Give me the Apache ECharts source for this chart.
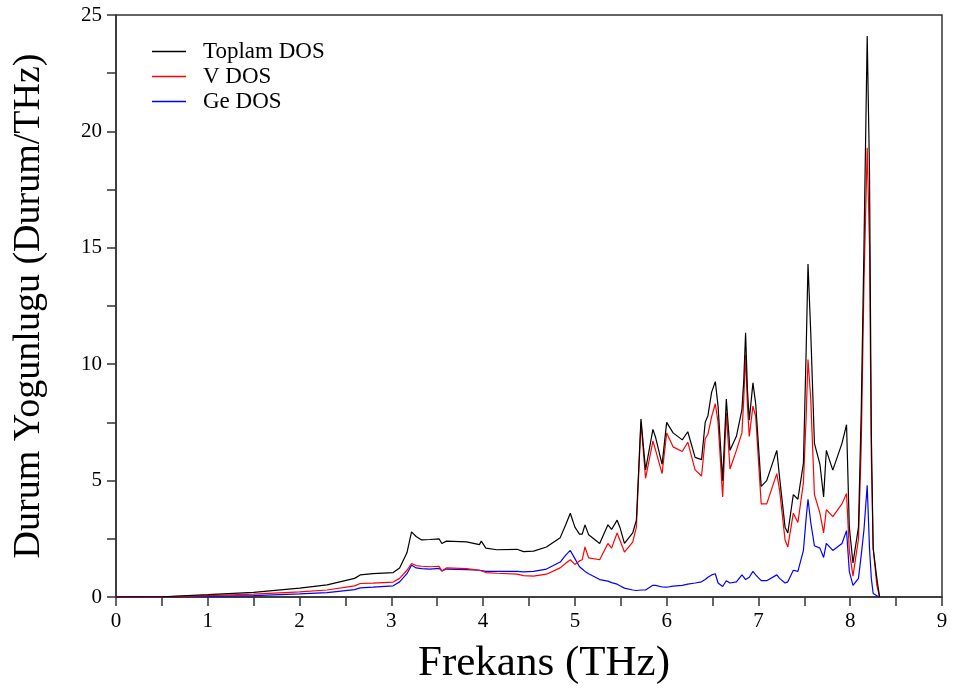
<!DOCTYPE html>
<html>
<head>
<meta charset="utf-8">
<script src="https://cdn.jsdelivr.net/npm/echarts@6/dist/echarts.min.js"></script>
<style>
html,body{margin:0;padding:0;background:#fff;}
#chart{width:955px;height:693px;}
</style>
</head>
<body>
<div id="chart"></div>
<script>
// Frequency grid (THz)
const freq = [0.00,0.50,1.00,1.50,2.00,2.30,2.60,2.66,2.80,3.02,3.09,3.17,3.22,3.27,3.33,3.42,3.52,3.55,3.60,3.82,3.96,3.98,4.03,4.15,4.37,4.44,4.55,4.69,4.84,4.90,4.95,5.00,5.05,5.08,5.11,5.15,5.27,5.36,5.40,5.46,5.49,5.54,5.63,5.67,5.72,5.77,5.85,5.88,5.95,6.00,6.07,6.17,6.23,6.31,6.38,6.42,6.45,6.49,6.53,6.56,6.61,6.65,6.69,6.76,6.82,6.84,6.86,6.88,6.90,6.94,6.97,7.03,7.09,7.20,7.23,7.29,7.32,7.38,7.43,7.49,7.52,7.54,7.57,7.61,7.67,7.71,7.74,7.81,7.91,7.96,7.99,8.03,8.09,8.12,8.15,8.185,8.21,8.23,8.25,8.29,8.32];
// Total DOS
const toplamDOS = [0,0.01,0.10,0.20,0.38,0.52,0.80,0.95,1.00,1.05,1.25,1.90,2.80,2.60,2.45,2.47,2.50,2.30,2.40,2.37,2.25,2.40,2.10,2.03,2.05,1.95,1.97,2.15,2.55,3.10,3.60,3.00,2.70,2.70,3.10,2.67,2.30,3.10,2.90,3.30,3.00,2.30,2.75,3.30,7.65,5.46,7.20,6.85,5.70,7.50,7.05,6.75,7.10,6.00,5.90,7.50,7.80,8.80,9.25,8.20,5.00,8.50,6.30,6.90,8.05,9.30,11.35,8.90,7.60,9.20,8.30,4.75,5.00,6.30,5.15,3.00,2.75,4.40,4.20,5.75,10.60,14.30,11.35,6.60,5.70,4.30,6.30,5.45,6.60,7.40,3.00,1.46,3.00,8.00,15.10,24.10,18.30,7.00,2.10,0.80,0];
// V partial DOS
const vDOS = [0,0.005,0.06,0.12,0.22,0.30,0.48,0.58,0.60,0.64,0.80,1.15,1.44,1.35,1.32,1.30,1.32,1.12,1.25,1.22,1.15,1.20,1.05,1.02,0.98,0.92,0.90,0.98,1.25,1.45,1.60,1.40,1.55,1.60,2.15,1.68,1.60,2.30,2.10,2.75,2.45,1.93,2.36,3.00,7.50,5.10,6.70,6.30,5.30,7.05,6.45,6.25,6.65,5.46,5.20,6.80,7.00,7.75,8.30,7.50,4.30,7.90,5.50,6.30,7.05,8.50,10.40,8.20,6.90,8.20,7.75,4.00,4.00,5.30,4.60,2.45,2.15,3.60,3.20,4.90,7.75,10.20,8.50,4.40,3.60,2.75,3.75,3.45,4.00,4.45,2.00,0.90,2.50,6.50,13.50,19.30,15.10,6.00,2.10,0.50,0];
// Ge partial DOS
const geDOS = [0,0.003,0.03,0.06,0.13,0.19,0.32,0.39,0.42,0.48,0.65,1.00,1.37,1.25,1.22,1.20,1.23,1.12,1.20,1.18,1.15,1.20,1.10,1.10,1.10,1.08,1.10,1.20,1.50,1.80,2.00,1.65,1.30,1.20,1.10,1.00,0.75,0.68,0.62,0.55,0.48,0.38,0.30,0.28,0.30,0.30,0.50,0.50,0.43,0.42,0.47,0.50,0.55,0.60,0.65,0.75,0.85,0.95,1.00,0.60,0.45,0.70,0.60,0.65,0.95,0.85,0.75,0.70,0.85,1.10,0.95,0.70,0.70,0.95,0.80,0.60,0.65,1.15,1.10,2.00,3.40,4.20,3.20,2.20,2.10,1.70,2.30,2.00,2.30,2.85,1.10,0.50,0.80,1.80,2.90,4.80,2.10,0.80,0.15,0.05,0];

const seriesNames = ['Toplam DOS','V DOS','Ge DOS'];
const xTicks = [0,1,2,3,4,5,6,7,8,9];
const yTicks = [0,5,10,15,20,25];

const pairs = arr => freq.map((f,i)=>[f,arr[i]]);
const serif = 'Liberation Serif';
const chart = echarts.init(document.getElementById('chart'), null, {renderer:'canvas'});

const axisCommon = {
  axisLine:{show:true,onZero:false,lineStyle:{color:'#333',width:1.5}},
  axisTick:{show:true,inside:false,length:9,lineStyle:{color:'#333',width:1.5}},
  minorTick:{show:true,splitNumber:2,length:9,lineStyle:{color:'#333',width:1.5}},
  splitLine:{show:false},
  axisLabel:{color:'#000',fontFamily:serif,fontSize:21},
  nameTextStyle:{color:'#000',fontFamily:serif}
};

chart.setOption({
  animation:false,
  backgroundColor:'#fff',
  grid:{left:116,right:13,top:15,bottom:96,show:true,borderColor:'#333',borderWidth:1.5,backgroundColor:'transparent'},
  legend:{
    show:true, orient:'vertical', left:147, top:34,
    icon:'rect', itemWidth:34, itemHeight:1.5, itemGap:0,
    data:seriesNames,
    textStyle:{fontFamily:serif,fontSize:23,lineHeight:25,color:'#000',padding:[0,0,0,12]}
  },
  xAxis:Object.assign({}, axisCommon, {
    type:'value', min:xTicks[0], max:xTicks[xTicks.length-1], interval:1,
    name:'Frekans (THz)', nameLocation:'middle', nameGap:45,
    nameTextStyle:{color:'#000',fontFamily:serif,fontSize:43,padding:[0,0,0,30]},
    axisLabel:Object.assign({}, axisCommon.axisLabel, {margin:14})
  }),
  yAxis:Object.assign({}, axisCommon, {
    type:'value', min:yTicks[0], max:yTicks[yTicks.length-1], interval:5,
    name:'Durum Yogunlugu (Durum/THz)', nameLocation:'middle', nameGap:68,
    nameTextStyle:{color:'#000',fontFamily:serif,fontSize:38},
    axisLabel:Object.assign({}, axisCommon.axisLabel, {margin:14})
  }),
  series:[
    {name:seriesNames[0],type:'line',data:pairs(toplamDOS),showSymbol:false,symbol:'none',lineStyle:{color:'#000',width:1.2},itemStyle:{color:'#000'},z:3},
    {name:seriesNames[1],type:'line',data:pairs(vDOS),showSymbol:false,symbol:'none',lineStyle:{color:'#ff0000',width:1.2},itemStyle:{color:'#ff0000'},z:2},
    {name:seriesNames[2],type:'line',data:pairs(geDOS),showSymbol:false,symbol:'none',lineStyle:{color:'#0000ff',width:1.2},itemStyle:{color:'#0000ff'},z:1}
  ]
});
</script>
</body>
</html>
